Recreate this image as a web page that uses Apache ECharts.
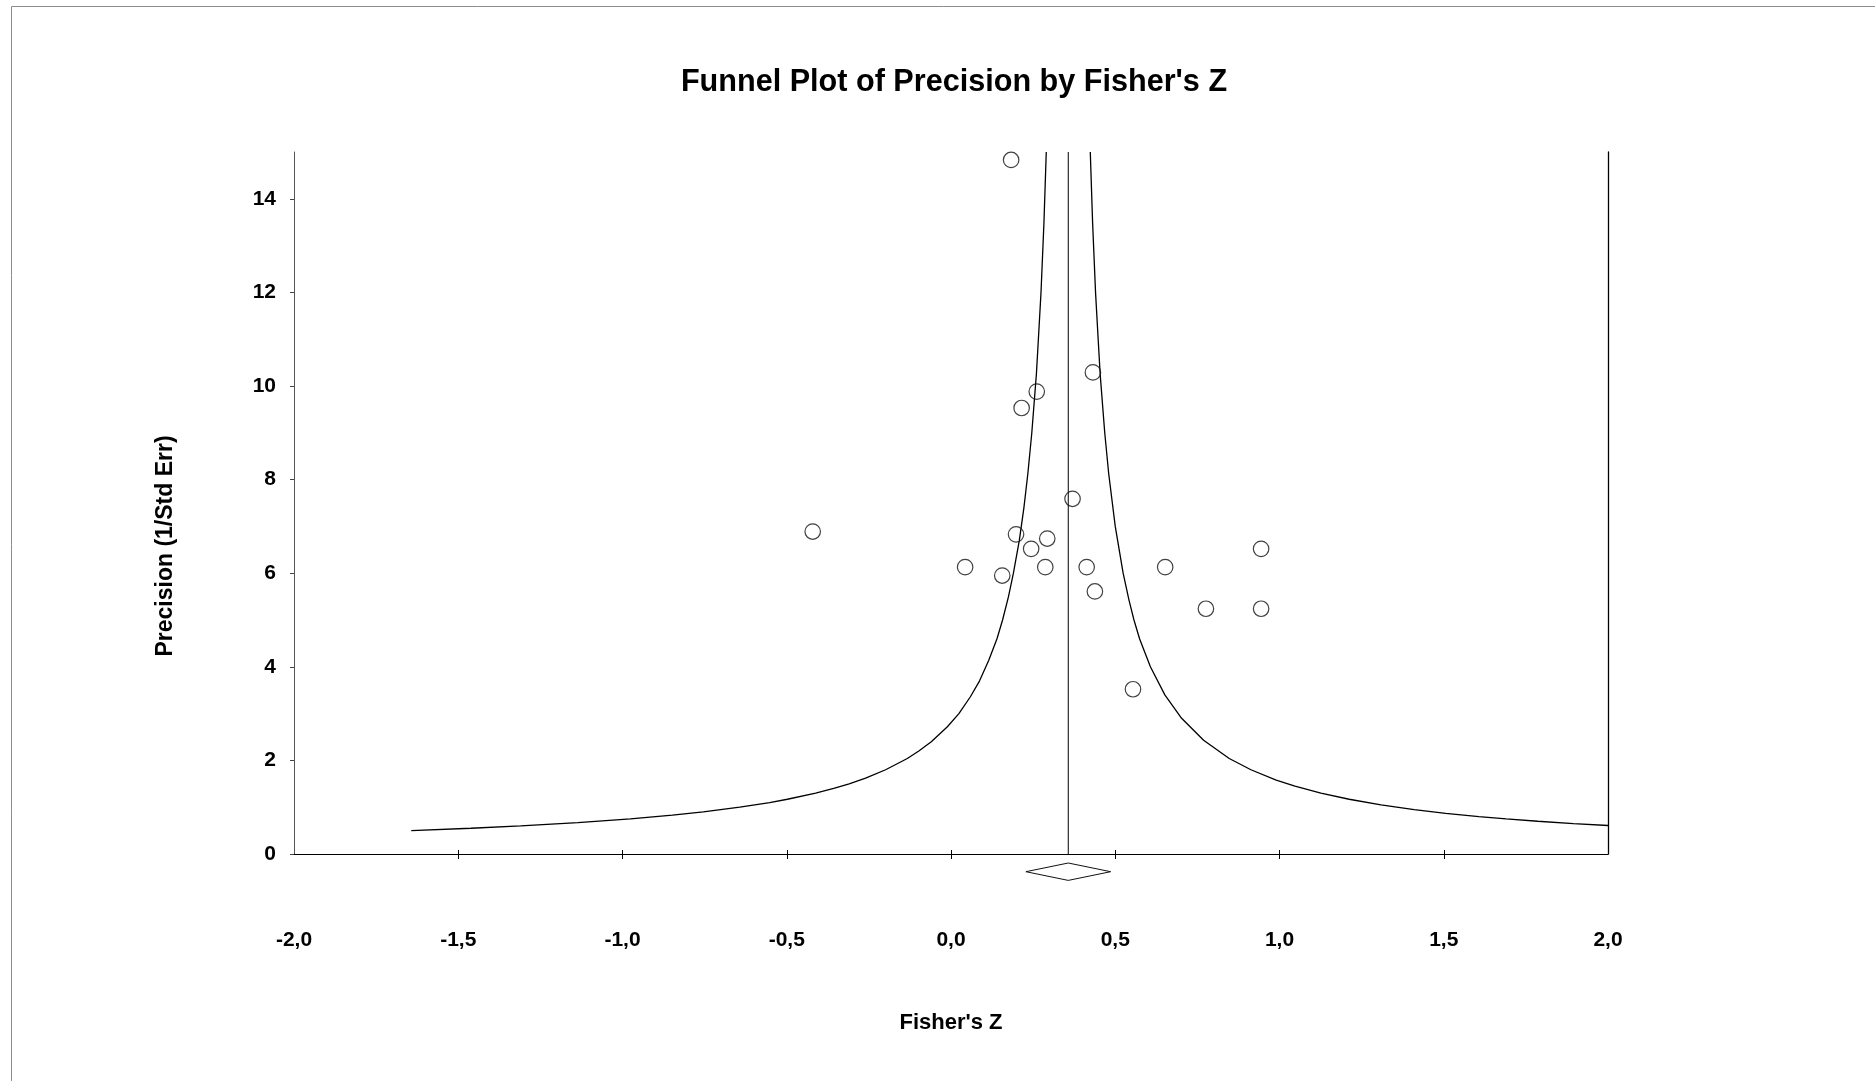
<!DOCTYPE html>
<html>
<head>
<meta charset="utf-8">
<script src="https://cdn.jsdelivr.net/npm/echarts@6/dist/echarts.min.js"></script>
<style>
html,body{margin:0;padding:0;background:#fff;}
#chart{width:1875px;height:1081px;}
</style>
</head>
<body>
<div id="chart"></div>
<script>
// ---- Data ----
const chartTitle = "Funnel Plot of Precision by Fisher's Z";
const xAxisTitle = "Fisher's Z";
const yAxisTitle = "Precision (1/Std Err)";

const xTickValues = [-2, -1.5, -1, -0.5, 0, 0.5, 1, 1.5, 2];
const xTickLabels = ['-2,0', '-1,5', '-1,0', '-0,5', '0,0', '0,5', '1,0', '1,5', '2,0'];
const yTickValues = [0, 2, 4, 6, 8, 10, 12, 14];
const yTickLabels = ['0', '2', '4', '6', '8', '10', '12', '14'];

// individual studies (Fisher's Z, precision)
const studyZ =         [0.183, 0.432, 0.261, 0.215, 0.370, -0.421, 0.198, 0.293, 0.244, 0.944, 0.043, 0.287, 0.413, 0.652, 0.156, 0.438, 0.776, 0.944, 0.554];
const studyPrecision = [14.83, 10.29, 9.88,  9.53,  7.59,  6.89,   6.83,  6.74,  6.52,  6.52,  6.13,  6.13,  6.13,  6.13,  5.95,  5.61,  5.24,  5.24,  3.52];

// combined estimate and its confidence interval (diamond)
const pooledZ = 0.357;
const pooledLow = 0.228;
const pooledHigh = 0.486;

// funnel boundaries (Fisher's Z, precision)
const funnelLeftZ = [-1.643, -1.461, -1.310, -1.136, -0.976, -0.848, -0.754, -0.643, -0.552, -0.498, -0.412, -0.357, -0.310, -0.260, -0.199, -0.133, -0.098, -0.060, -0.011, 0.024, 0.059, 0.087, 0.115, 0.140, 0.157, 0.175, 0.190, 0.208, 0.222, 0.234, 0.246, 0.260, 0.266, 0.274, 0.283, 0.290];
const funnelLeftP = [0.50, 0.55, 0.60, 0.67, 0.75, 0.83, 0.90, 1.00, 1.10, 1.17, 1.30, 1.40, 1.50, 1.62, 1.80, 2.04, 2.20, 2.40, 2.72, 3.00, 3.36, 3.70, 4.14, 4.60, 5.00, 5.50, 6.00, 6.70, 7.40, 8.13, 9.00, 10.26, 11.00, 12.00, 13.50, 15.00];
const funnelRightZ = [2.000, 1.895, 1.786, 1.690, 1.607, 1.506, 1.410, 1.309, 1.212, 1.126, 1.047, 0.990, 0.913, 0.847, 0.769, 0.702, 0.651, 0.607, 0.574, 0.557, 0.542, 0.524, 0.500, 0.480, 0.468, 0.454, 0.448, 0.440, 0.431, 0.424];
const funnelRightP = [0.609, 0.65, 0.70, 0.75, 0.80, 0.87, 0.95, 1.05, 1.17, 1.30, 1.45, 1.58, 1.80, 2.04, 2.43, 2.90, 3.40, 4.00, 4.60, 5.00, 5.42, 6.00, 7.00, 8.13, 9.00, 10.26, 11.00, 12.00, 13.50, 15.00];

const xMin = -2, xMax = 2, xStep = 0.5;
const yMin = 0, yMax = 15, yStep = 2;

// ---- Chart ----
const FONT = "'Liberation Sans', Arial, Helvetica, sans-serif";
const chart = echarts.init(document.getElementById('chart'), null, {renderer: 'canvas'});

const zip = (a, b) => a.map((v, i) => [v, b[i]]);
const innerX = xTickValues.filter(v => v > xMin && v < xMax);

const option = {
  backgroundColor: '#ffffff',
  animation: false,
  title: {
    text: chartTitle,
    left: 949,
    top: 62,
    textAlign: 'center',
    textStyle: {fontFamily: FONT, fontWeight: 'bold', fontSize: 30.6, color: '#000'}
  },
  grid: {left: 294, right: 267, top: 152, bottom: 227, outerBoundsMode: 'none', containLabel: false},
  xAxis: [{
    type: 'value', min: xMin, max: xMax, interval: xStep,
    name: xAxisTitle, nameLocation: 'middle', nameGap: 157.5,
    nameTextStyle: {fontFamily: FONT, fontWeight: 'bold', fontSize: 22, color: '#000'},
    axisLine: {show: true, onZero: false, lineStyle: {color: '#000', width: 1}},
    axisTick: {show: true, inside: true, length: 4, customValues: innerX, lineStyle: {color: '#000', width: 1}},
    axisLabel: {
      show: true, margin: 76, customValues: xTickValues,
      fontFamily: FONT, fontWeight: 'bold', fontSize: 21, color: '#000',
      formatter: v => { const i = xTickValues.findIndex(t => Math.abs(t - v) < 1e-9); return i >= 0 ? xTickLabels[i] : ''; }
    },
    splitLine: {show: false}
  }, {
    type: 'value', min: xMin, max: xMax, interval: xStep, position: 'bottom',
    axisLine: {show: false, onZero: false},
    axisTick: {show: true, inside: false, length: 5, customValues: innerX, lineStyle: {color: '#000', width: 1}},
    axisLabel: {show: false},
    splitLine: {show: false}
  }],
  yAxis: [{
    type: 'value', min: yMin, max: yMax, interval: yStep,
    axisLine: {show: true, onZero: false, lineStyle: {color: '#555', width: 1}},
    axisTick: {show: true, inside: false, length: 4, customValues: yTickValues, lineStyle: {color: '#444', width: 1}},
    axisLabel: {
      show: true, margin: 18, customValues: yTickValues,
      fontFamily: FONT, fontWeight: 'bold', fontSize: 21, color: '#000',
      formatter: v => { const i = yTickValues.indexOf(v); return i >= 0 ? yTickLabels[i] : ''; }
    },
    splitLine: {show: false}
  }, {
    type: 'value', min: yMin, max: yMax, position: 'right',
    axisLine: {show: true, onZero: false, lineStyle: {color: '#000', width: 1.3}},
    axisTick: {show: false}, axisLabel: {show: false}, splitLine: {show: false}
  }],
  graphic: [{
    type: 'rect', silent: true, z: -1,
    shape: {x: 11.5, y: 6.5, width: 2000, height: 2000},
    style: {fill: 'none', stroke: '#8c8c8c', lineWidth: 1}
  }, {
    type: 'text', silent: true,
    x: 166, y: 546, rotation: Math.PI / 2,
    style: {text: yAxisTitle, fontFamily: FONT, fontWeight: 'bold', fontSize: 23, fill: '#000', align: 'center', verticalAlign: 'middle'}
  }],
  series: [{
    name: 'Funnel left', type: 'line', xAxisIndex: 0, yAxisIndex: 0,
    data: zip(funnelLeftZ, funnelLeftP), showSymbol: false, symbol: 'none',
    smooth: false, lineStyle: {color: '#000', width: 1.3}, z: 2
  }, {
    name: 'Funnel right', type: 'line', xAxisIndex: 0, yAxisIndex: 0,
    data: zip(funnelRightZ, funnelRightP), showSymbol: false, symbol: 'none',
    smooth: false, lineStyle: {color: '#000', width: 1.3}, z: 2
  }, {
    name: 'Combined', type: 'line', xAxisIndex: 0, yAxisIndex: 0,
    data: [[pooledZ, yMin], [pooledZ, yMax]], showSymbol: false, symbol: 'none',
    lineStyle: {color: '#000', width: 1}, z: 2
  }, {
    name: 'Studies', type: 'scatter', xAxisIndex: 0, yAxisIndex: 0,
    data: zip(studyZ, studyPrecision), symbol: 'circle', symbolSize: 15.5,
    itemStyle: {color: 'rgba(0,0,0,0)', borderColor: '#111', borderWidth: 1.2}, z: 3
  }, {
    name: 'Pooled CI', type: 'custom', xAxisIndex: 0, yAxisIndex: 0, clip: false,
    encode: {x: [0, 2, 3], y: 1},
    data: [[pooledLow, 0, pooledZ, pooledHigh]],
    renderItem: function (params, api) {
      const pl = api.coord([api.value(0), api.value(1)]);
      const pm = api.coord([api.value(2), api.value(1)]);
      const ph = api.coord([api.value(3), api.value(1)]);
      const cy = pl[1] + 17.7, hh = 8.7;
      return {
        type: 'polygon',
        shape: {points: [[pl[0], cy], [pm[0], cy - hh], [ph[0], cy], [pm[0], cy + hh]]},
        style: {fill: '#fff', stroke: '#111', lineWidth: 1}
      };
    }, z: 3
  }]
};
chart.setOption(option);
</script>
</body>
</html>
